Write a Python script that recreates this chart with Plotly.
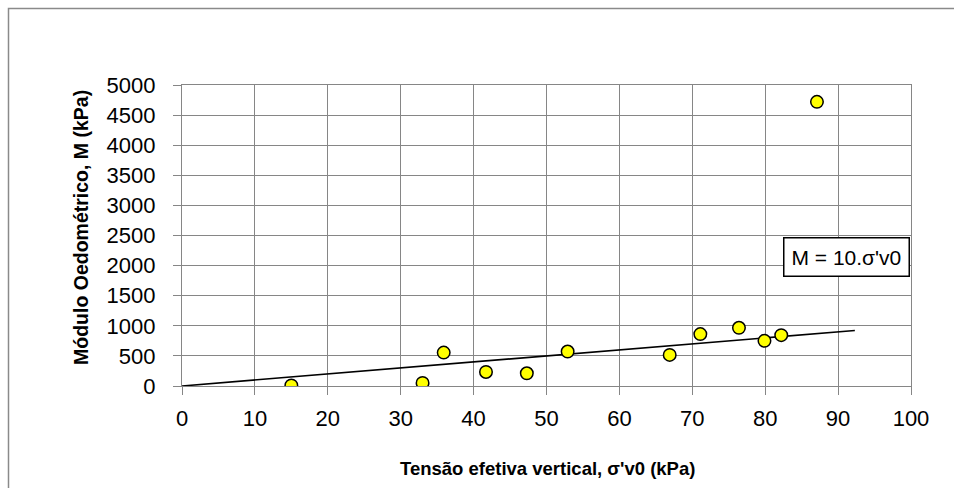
import plotly.graph_objects as go

# Data
sigma_v0 = [15.0, 33.0, 35.9, 41.7, 47.3, 52.9, 66.9, 71.1, 76.4, 79.9, 82.2, 87.1]
modulo_M = [10, 50, 555, 233, 211, 572, 517, 862, 967, 750, 845, 4720]

trend_x = [0, 92.3]
trend_y = [0, 923]

x_ticks = [0, 10, 20, 30, 40, 50, 60, 70, 80, 90, 100]
y_ticks = [0, 500, 1000, 1500, 2000, 2500, 3000, 3500, 4000, 4500, 5000]

GRID = "#868686"
FONT = "Liberation Sans, Arial, sans-serif"

fig = go.Figure()
fig.add_trace(go.Scatter(
    x=trend_x, y=trend_y, mode="lines",
    line=dict(color="black", width=1.6),
    showlegend=False, hoverinfo="skip"))
fig.add_trace(go.Scatter(
    x=sigma_v0, y=modulo_M, mode="markers",
    marker=dict(size=12.5, color="#FFFF00", line=dict(color="black", width=1.5)),
    showlegend=False))

# plot area in pixels: x 182..911, y 85..386
W, H = 954, 488
L, R, T, B = 182, 911, 85, 386

def px(xp):
    return (xp - L) / (R - L)

def py(yp):
    return (B - yp) / (B - T)

fig.update_layout(
    width=W, height=H,
    margin=dict(l=L, r=W - R, t=T, b=H - B),
    paper_bgcolor="white", plot_bgcolor="white",
    font=dict(family=FONT, color="black"),
    xaxis=dict(
        range=[0, 100], tickvals=x_ticks, ticktext=[str(v) for v in x_ticks],
        showgrid=True, gridcolor=GRID, gridwidth=1.4,
        showline=True, linecolor=GRID, linewidth=1.4, mirror=True,
        ticks="outside", ticklen=8, tickcolor=GRID, tickwidth=1.4,
        tickfont=dict(size=22, family=FONT, color="black"),
        zeroline=False, fixedrange=True,
        ticklabelstandoff=4,
    ),
    yaxis=dict(
        range=[0, 5000], tickvals=y_ticks, ticktext=[str(v) for v in y_ticks],
        showgrid=True, gridcolor=GRID, gridwidth=1.4,
        showline=True, linecolor=GRID, linewidth=1.4, mirror=True,
        ticks="outside", ticklen=8, tickcolor=GRID, tickwidth=1.4,
        tickfont=dict(size=22, family=FONT, color="black"),
        zeroline=False, fixedrange=True,
        ticklabelstandoff=13,
    ),
    annotations=[
        dict(text="<b>Tensão efetiva vertical, σ'v0 (kPa)</b>",
             xref="paper", yref="paper", x=px(547), y=py(468),
             xanchor="center", yanchor="middle", showarrow=False,
             font=dict(size=18.5, family=FONT, color="black")),
        dict(text="<b>Módulo Oedométrico, M (kPa)</b>",
             xref="paper", yref="paper", x=px(81), y=py(228),
             xanchor="center", yanchor="middle", showarrow=False, textangle=-90,
             font=dict(size=19.5, family=FONT, color="black")),
        dict(text="M = 10.σ'v0",
             xref="paper", yref="paper", x=px(846), y=py(256.5),
             xanchor="center", yanchor="middle", showarrow=False,
             font=dict(size=21, family=FONT, color="black"),
             bordercolor="black", borderwidth=1.5, borderpad=7, bgcolor="white"),
    ],
    shapes=[
        dict(type="rect", xref="paper", yref="paper",
             x0=px(8.5), x1=px(1000), y0=py(1000), y1=py(8.5),
             line=dict(color="#8a8a8a", width=1.5), fillcolor="rgba(0,0,0,0)",
             layer="below"),
    ],
)

fig.write_html("out.html")
